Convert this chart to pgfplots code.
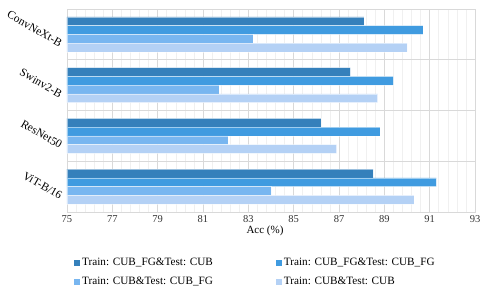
\documentclass[border=0pt]{standalone}
\usepackage{fontspec}
\setmainfont{Liberation Serif}
\usepackage{pgfplots}
\pgfplotsset{compat=1.18}
\definecolor{c1}{HTML}{3580BB}
\definecolor{c2}{HTML}{409BE0}
\definecolor{c3}{HTML}{78B6F0}
\definecolor{c4}{HTML}{B4D1F5}
\definecolor{gmaj}{HTML}{D9D9D9}
\definecolor{gmin}{HTML}{F0F0F0}
\begin{document}
\begin{tikzpicture}
\begin{axis}[
  scale only axis,
  width=408pt, height=203pt,
  xbar,
  bar width=8.75pt,
  y dir=reverse,
  xmin=75, xmax=93,
  ymin=-0.5, ymax=3.5,
  xtick={75,77,...,93},
  minor x tick num=4,
  xmajorgrids, xminorgrids,
  major grid style={gmaj, line width=0.6pt},
  minor grid style={gmin, line width=0.5pt},
  ytick={0,1,2,3},
  yticklabels={ConvNeXt-B,Swinv2-B,ResNet50,ViT-B/16},
  extra y ticks={0.5,1.5,2.5},
  extra y tick labels={},
  extra y tick style={grid=major, major tick length=0pt},
  major tick length=0pt, minor tick length=0pt,
  axis line style={gmaj, line width=0.6pt},
  /pgf/number format/assume math mode=true,
  xticklabel style={font=\fontsize{10.5}{12}\selectfont, text=black!80},
  yticklabel style={font=\fontsize{11.5}{13}\selectfont, yshift=-5pt, xshift=1pt, rotate=-30, anchor=north east},
  xlabel={Acc (\%)},
  xlabel style={font=\fontsize{11}{13}\selectfont, yshift=4pt, xshift=-6pt},
  legend columns=2,
  legend cell align=left,
  legend style={at={(rel axis cs:0,0)}, anchor=north west, xshift=7pt, yshift=-44pt,
    draw=none, inner sep=0pt, font=\fontsize{11.2}{13}\selectfont,
    /tikz/every even column/.append style={column sep=61pt},
    /tikz/every odd column/.append style={column sep=0pt},
    row sep=6pt},
  legend image code/.code={\fill[#1,draw=none] (0pt,-3pt) rectangle (6pt,3pt);},
]
\addplot[fill=c1, draw=white, draw opacity=0.5, line width=0.5pt, bar shift=13.125pt] coordinates {(88.1,0) (87.5,1) (86.2,2) (88.5,3)};
\addplot[fill=c2, draw=white, draw opacity=0.5, line width=0.5pt, bar shift=4.375pt] coordinates {(90.7,0) (89.4,1) (88.8,2) (91.3,3)};
\addplot[fill=c3, draw=white, draw opacity=0.5, line width=0.5pt, bar shift=-4.375pt] coordinates {(83.2,0) (81.7,1) (82.1,2) (84.0,3)};
\addplot[fill=c4, draw=white, draw opacity=0.5, line width=0.5pt, bar shift=-13.125pt] coordinates {(90.0,0) (88.7,1) (86.9,2) (90.3,3)};
\legend{Train: CUB\_FG\&Test: CUB, Train: CUB\_FG\&Test: CUB\_FG, Train: CUB\&Test: CUB\_FG, Train: CUB\&Test: CUB}
\end{axis}
\pgfresetboundingbox
\path (-67pt,-81pt) rectangle (418pt,212pt);
\end{tikzpicture}
\end{document}
